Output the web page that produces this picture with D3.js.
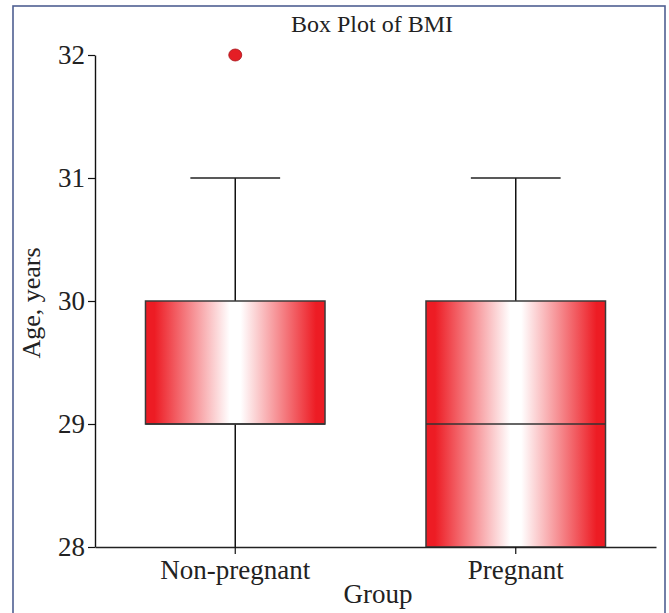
<!DOCTYPE html>
<html><head><meta charset="utf-8">
<script src="https://cdn.jsdelivr.net/npm/d3@7"></script>
<style>
html,body{margin:0;padding:0;background:#fff;}
text{font-family:"Liberation Serif","DejaVu Serif",serif;fill:#222;}
</style></head>
<body>
<svg id="chart" width="669" height="613"></svg>
<script>
// ---- data ----
const categories = ["Non-pregnant", "Pregnant"];
const whiskerLow = [28, 28];
const q1 = [29, 28];
const median = [29, 29];
const q3 = [30, 30];
const whiskerHigh = [31, 31];
const outliers = [[32], []];
const yTicks = [28, 29, 30, 31, 32];
const title = "Box Plot of BMI";
const xTitle = "Group";
const yTitle = "Age, years";

const svg = d3.select("#chart");

// frame
svg.append("rect").attr("x", 13).attr("y", 6).attr("width", 652).attr("height", 640)
  .attr("fill", "none").attr("stroke", "#4f5f92").attr("stroke-width", 1.6);

const defs = svg.append("defs");
const grad = defs.append("linearGradient").attr("id", "redGrad")
  .attr("x1", "0%").attr("x2", "100%").attr("y1", "0%").attr("y2", "0%");
[[0, "#ed1c24"], [0.05, "#ed1c24"], [0.47, "#ffffff"], [0.53, "#ffffff"], [0.95, "#ed1c24"], [1, "#ed1c24"]]
  .forEach(([o, c]) => grad.append("stop").attr("offset", o).attr("stop-color", c));

const x = d3.scaleBand().domain(categories).range([95, 656]).padding(0);
const y = d3.scaleLinear().domain([28, 32]).range([547, 55]);

const boxW = x.bandwidth() * 0.64;
const capW = x.bandwidth() * 0.32;

// axes
const yAxis = svg.append("g").attr("transform", `translate(95,0)`)
  .call(d3.axisLeft(y).tickValues(yTicks).tickFormat(d3.format("d")).tickSize(7).tickPadding(3).tickSizeOuter(0));
yAxis.select(".domain").attr("stroke", "#111").attr("stroke-width", 1.4);
yAxis.selectAll(".tick line").attr("stroke", "#111").attr("stroke-width", 1.2);
yAxis.selectAll("text").attr("font-size", 27).attr("font-family", "Liberation Serif").attr("fill", "#222");

const data = categories.map((c, i) => ({c, lo: whiskerLow[i], q1: q1[i], med: median[i], q3: q3[i], hi: whiskerHigh[i], out: outliers[i]}));

const g = svg.append("g");
data.forEach(d => {
  const cx = x(d.c) + x.bandwidth() / 2;
  // whiskers
  g.append("line").attr("x1", cx).attr("x2", cx).attr("y1", y(d.q3)).attr("y2", y(d.hi)).attr("stroke", "#111").attr("stroke-width", 1.5);
  g.append("line").attr("x1", cx).attr("x2", cx).attr("y1", y(d.q1)).attr("y2", y(d.lo)).attr("stroke", "#111").attr("stroke-width", 1.5);
  g.append("line").attr("x1", cx - capW / 2).attr("x2", cx + capW / 2).attr("y1", y(d.hi)).attr("y2", y(d.hi)).attr("stroke", "#222").attr("stroke-width", 1.5);
  // box
  g.append("rect").attr("x", cx - boxW / 2).attr("width", boxW)
    .attr("y", y(d.q3)).attr("height", y(d.q1) - y(d.q3))
    .attr("fill", "url(#redGrad)").attr("stroke", "#3a3a3a").attr("stroke-width", 1.5);
  g.append("line").attr("x1", cx - boxW / 2).attr("x2", cx + boxW / 2).attr("y1", y(d.med)).attr("y2", y(d.med)).attr("stroke", "#333").attr("stroke-width", 1.5);
  d.out.forEach(v => {
    g.append("ellipse").attr("cx", cx).attr("cy", y(v)).attr("rx", 6.5).attr("ry", 6)
      .attr("fill", "#e41e25").attr("stroke", "#a51218").attr("stroke-width", 0.8);
  });
});

const xAxis = svg.append("g").attr("transform", `translate(0,547)`)
  .call(d3.axisBottom(x).tickSize(7).tickPadding(6).tickSizeOuter(0));
xAxis.select(".domain").attr("stroke", "#222").attr("stroke-width", 1.6);
xAxis.selectAll(".tick line").attr("stroke", "#111").attr("stroke-width", 1.2);
xAxis.selectAll("text").attr("font-size", 27).attr("font-family", "Liberation Serif").attr("fill", "#222");

// titles
svg.append("text").attr("x", 372).attr("y", 32).attr("text-anchor", "middle").attr("font-size", 24).text(title);
svg.append("text").attr("x", 378).attr("y", 603).attr("text-anchor", "middle").attr("font-size", 27).text(xTitle);
svg.append("text").attr("transform", "translate(40,303) rotate(-90)").attr("text-anchor", "middle").attr("font-size", 26).text(yTitle);
</script>
</body></html>
